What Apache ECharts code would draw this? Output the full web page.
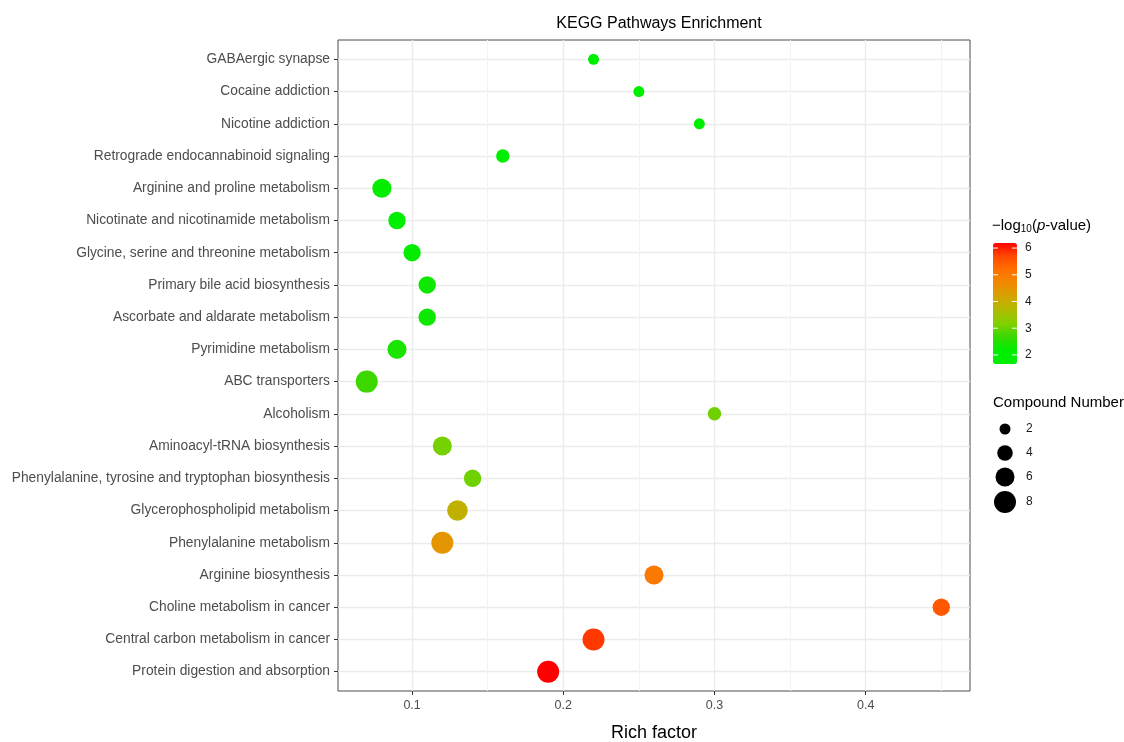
<!DOCTYPE html>
<html>
<head>
<meta charset="utf-8">
<script src="https://cdn.jsdelivr.net/npm/echarts@6/dist/echarts.min.js"></script>
<style>
html,body{margin:0;padding:0;background:#fff;}
#chart{width:1124px;height:742px;}
</style>
</head>
<body>
<div id="chart"></div>
<script>
// ---- data (top row first) ----
var categories = [
  'GABAergic synapse',
  'Cocaine addiction',
  'Nicotine addiction',
  'Retrograde endocannabinoid signaling',
  'Arginine and proline metabolism',
  'Nicotinate and nicotinamide metabolism',
  'Glycine, serine and threonine metabolism',
  'Primary bile acid biosynthesis',
  'Ascorbate and aldarate metabolism',
  'Pyrimidine metabolism',
  'ABC transporters',
  'Alcoholism',
  'Aminoacyl-tRNA biosynthesis',
  'Phenylalanine, tyrosine and tryptophan biosynthesis',
  'Glycerophospholipid metabolism',
  'Phenylalanine metabolism',
  'Arginine biosynthesis',
  'Choline metabolism in cancer',
  'Central carbon metabolism in cancer',
  'Protein digestion and absorption'
];
var richFactor = [0.22, 0.25, 0.29, 0.16, 0.08, 0.09, 0.10, 0.11, 0.11, 0.09,
                  0.07, 0.30, 0.12, 0.14, 0.13, 0.12, 0.26, 0.45, 0.22, 0.19];
var negLogP    = [1.66, 1.70, 1.75, 1.90, 2.20, 2.10, 2.20, 2.30, 2.30, 2.40,
                  2.70, 3.05, 3.10, 3.05, 3.90, 4.45, 5.00, 5.50, 5.80, 6.19];
var compound   = [2, 2, 2, 3, 6, 5, 5, 5, 5, 6,
                  8, 3, 6, 5, 7, 8, 6, 5, 8, 8];
var xTickValues = [0.1, 0.2, 0.3, 0.4];
var colorTicks = [2, 3, 4, 5, 6];
var sizeBreaks = [2, 4, 6, 8];
var xMin = 0.051, xMax = 0.469;
var pMin = 1.66, pMax = 6.19;

// ---- styling ----
var FONT = 'Liberation Sans, Arial, sans-serif';
var sizeK = 7.78;
function symSize(n){ return sizeK * Math.sqrt(n); }

var cbLeft = 993, cbTop = 243, cbW = 24, cbH = 121;
var yIdx = categories.map(function(c, i){ return i; });

var chart = echarts.init(document.getElementById('chart'), null, {renderer:'canvas'});

var graphics = [];
// colour bar title
graphics.push({
  type:'text', left: 992, top: 218,
  style:{
    text:'{a|\u2212log}{s|10}{a|(}{i|p}{a|-value)}',
    rich:{
      a:{fontFamily:FONT,fontSize:15,fill:'#000'},
      s:{fontFamily:FONT,fontSize:10,fill:'#000',verticalAlign:'bottom',padding:[8,0,0,0]},
      i:{fontFamily:FONT,fontSize:15,fill:'#000',fontStyle:'italic'}
    }
  }
});
colorTicks.forEach(function(v){
  var y = cbTop + (pMax - v) / (pMax - pMin) * cbH;
  graphics.push({type:'text', x: cbLeft + cbW + 8, y: y, style:{text:String(v), fontFamily:FONT, fontSize:12, fill:'#1a1a1a', verticalAlign:'middle'}});
  graphics.push({type:'line', shape:{x1:cbLeft, y1:y, x2:cbLeft+5, y2:y}, style:{stroke:'#fff', lineWidth:1}, z:100});
  graphics.push({type:'line', shape:{x1:cbLeft+cbW-5, y1:y, x2:cbLeft+cbW, y2:y}, style:{stroke:'#fff', lineWidth:1}, z:100});
});
// size legend
graphics.push({type:'text', x: 993, y: 403, style:{text:'Compound Number', fontFamily:FONT, fontSize:15, fill:'#000', verticalAlign:'middle'}});
var legY = [429, 453, 477, 502];
sizeBreaks.forEach(function(n, k){
  graphics.push({type:'circle', shape:{cx:1005, cy:legY[k], r:symSize(n)/2}, style:{fill:'#000'}});
  graphics.push({type:'text', x: 1026, y: legY[k], style:{text:String(n), fontFamily:FONT, fontSize:12, fill:'#1a1a1a', verticalAlign:'middle'}});
});

var option = {
  backgroundColor:'#fff',
  animation:false,
  title:{
    text:'KEGG Pathways Enrichment',
    left:654, top:11, textAlign:'center',
    textStyle:{fontFamily:FONT, fontSize:16, fontWeight:'normal', color:'#000'}
  },
  grid:{
    left:338, right:154, top:40, bottom:51,
    outerBoundsMode:'none', containLabel:false,
    show:true, borderColor:'#4d4d4d', borderWidth:1, backgroundColor:'#fff'
  },
  xAxis:{
    type:'value', min:xMin, max:xMax, minInterval:0.1, maxInterval:0.1,
    name:'Rich factor', nameLocation:'middle', nameGap:33,
    nameTextStyle:{fontFamily:FONT, fontSize:18, color:'#000'},
    axisLine:{show:false, onZero:false},
    axisTick:{show:true, length:4, lineStyle:{color:'#333'}, customValues:xTickValues},
    axisLabel:{fontFamily:FONT, fontSize:12.5, color:'#4d4d4d', margin:8, customValues:xTickValues,
      formatter:function(v){ return String(+(+v).toFixed(2)); }},
    splitLine:{show:true, lineStyle:{color:'#ebebeb', width:1.3}},
    minorTick:{show:false, splitNumber:2},
    minorSplitLine:{show:true, lineStyle:{color:'#f3f3f3', width:1}}
  },
  yAxis:{
    type:'value', inverse:true, min:-0.6, max:categories.length - 0.4,
    minInterval:1, maxInterval:1,
    axisLine:{show:false, onZero:false},
    axisTick:{show:true, length:4, lineStyle:{color:'#333'}, customValues:yIdx},
    axisLabel:{fontFamily:FONT, fontSize:13.8, color:'#4d4d4d', margin:8, customValues:yIdx,
      formatter:function(v){ return categories[Math.round(v)] !== undefined ? categories[Math.round(v)] : ''; }},
    splitLine:{show:true, lineStyle:{color:'#ebebeb', width:1.3}}
  },
  visualMap:{
    type:'continuous', min:pMin, max:pMax, dimension:2, seriesIndex:0,
    calculable:false, left:cbLeft, top:cbTop, itemWidth:cbW, itemHeight:cbH,
    padding:0, text:null, showLabel:false, hoverLink:false,
    inRange:{color:['#00ee00','#00ee00','#38d800','#80d000','#b0bc00','#d4a400','#f08a00','#ff7000','#ff4a00','#ff0000']}
  },
  series:[{
    type:'scatter',
    data: categories.map(function(c, i){ return [richFactor[i], i, negLogP[i], compound[i]]; }),
    symbolSize:function(d){ return symSize(d[3]); },
    itemStyle:{opacity:1},
    z:5
  }],
  graphic: graphics
};
chart.setOption(option);
</script>
</body>
</html>
